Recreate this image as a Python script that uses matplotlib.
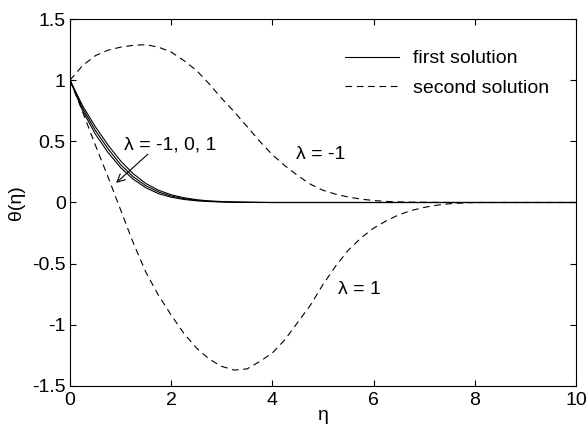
import matplotlib
matplotlib.use('Agg')
import matplotlib.pyplot as plt

plt.rcParams['font.family'] = ['Liberation Sans', 'DejaVu Sans']
plt.rcParams['font.size'] = 14

# eta grid
eta = [0, 0.25, 0.5, 0.75, 1.0, 1.25, 1.5, 1.75, 2.0, 2.25, 2.5, 2.75, 3.0,
       3.25, 3.5, 3.75, 4.0, 4.25, 4.5, 4.75, 5.0, 5.25, 5.5, 5.75, 6.0,
       6.25, 6.5, 6.75, 7.0, 7.25, 7.5, 7.75, 8.0, 9.0, 10.0]

# first solution, lambda = -1, 0, 1 (three close solid curves)
first_a = [1.0, 0.79, 0.62, 0.47, 0.34, 0.235, 0.155, 0.10, 0.063, 0.039, 0.023,
           0.013, 0.008, 0.004, 0.002, 0.001, 0, 0, 0, 0, 0, 0, 0, 0, 0,
           0, 0, 0, 0, 0, 0, 0, 0, 0, 0]
first_b = [1.0, 0.77, 0.59, 0.44, 0.31, 0.21, 0.137, 0.086, 0.053, 0.032, 0.018,
           0.010, 0.006, 0.003, 0.0015, 0.0007, 0, 0, 0, 0, 0, 0, 0, 0, 0,
           0, 0, 0, 0, 0, 0, 0, 0, 0, 0]
first_c = [1.0, 0.75, 0.56, 0.41, 0.285, 0.19, 0.12, 0.072, 0.043, 0.025, 0.014,
           0.008, 0.004, 0.002, 0.001, 0, 0, 0, 0, 0, 0, 0, 0, 0, 0,
           0, 0, 0, 0, 0, 0, 0, 0, 0, 0]

# second solution
second_lm1 = [1.0, 1.12, 1.20, 1.245, 1.27, 1.285, 1.29, 1.27, 1.23, 1.16, 1.08,
              0.97, 0.85, 0.74, 0.62, 0.50, 0.39, 0.30, 0.22, 0.15, 0.10, 0.068,
              0.045, 0.028, 0.016, 0.009, 0.005, 0.003, 0.002, 0.001, 0, 0, 0, 0, 0]
second_l1 = [1.0, 0.74, 0.47, 0.21, -0.06, -0.33, -0.57, -0.76, -0.92, -1.07,
             -1.19, -1.28, -1.34, -1.37, -1.36, -1.30, -1.23, -1.12, -0.98, -0.84,
             -0.67, -0.52, -0.39, -0.29, -0.21, -0.15, -0.10, -0.065, -0.04,
             -0.022, -0.01, -0.004, 0, 0, 0]

fig = plt.figure(figsize=(5.87, 4.29), dpi=100)
ax = fig.add_axes([70/587, 1-386/429, 506/587, 367/429])

lw = 0.8
dash = (0, (6, 4.2))
ax.plot(eta, first_a, 'k-', lw=lw, label='first solution')
ax.plot(eta, first_b, 'k-', lw=lw)
ax.plot(eta, first_c, 'k-', lw=lw)
ax.plot(eta, second_lm1, color='k', ls=dash, lw=lw, label='second solution')
ax.plot(eta, second_l1, color='k', ls=dash, lw=lw)

ax.set_xlim(0, 10)
ax.set_ylim(-1.5, 1.5)
ax.set_xticks([0, 2, 4, 6, 8, 10])
ax.set_yticks([-1.5, -1, -0.5, 0, 0.5, 1, 1.5])
ax.set_yticklabels(['-1.5', '-1', '-0.5', '0', '0.5', '1', '1.5'])
ax.tick_params(direction='in', length=4, width=0.8, top=True, right=True)
ax.tick_params(axis='y', pad=3)
ax.tick_params(axis='x', pad=4)
for s in ax.spines.values():
    s.set_linewidth(0.8)

ax.set_xlabel('η', labelpad=-1)
ax.set_ylabel('θ(η)', labelpad=5)

ax.text(1.06, 0.47, 'λ = -1, 0, 1', va='center', ha='left')
ax.annotate('', xy=(0.87, 0.145), xytext=(1.58, 0.41),
            arrowprops=dict(arrowstyle='->', color='k', lw=0.8))
ax.text(4.47, 0.39, 'λ = -1', va='center', ha='left')
ax.text(5.30, -0.71, 'λ = 1', va='center', ha='left')

ax.legend(loc='upper left', bbox_to_anchor=(0.543, 0.916), frameon=False,
          borderpad=0, borderaxespad=0, handlelength=2.8, handletextpad=0.7,
          labelspacing=0.6)

plt.savefig('out.png', dpi=100)
